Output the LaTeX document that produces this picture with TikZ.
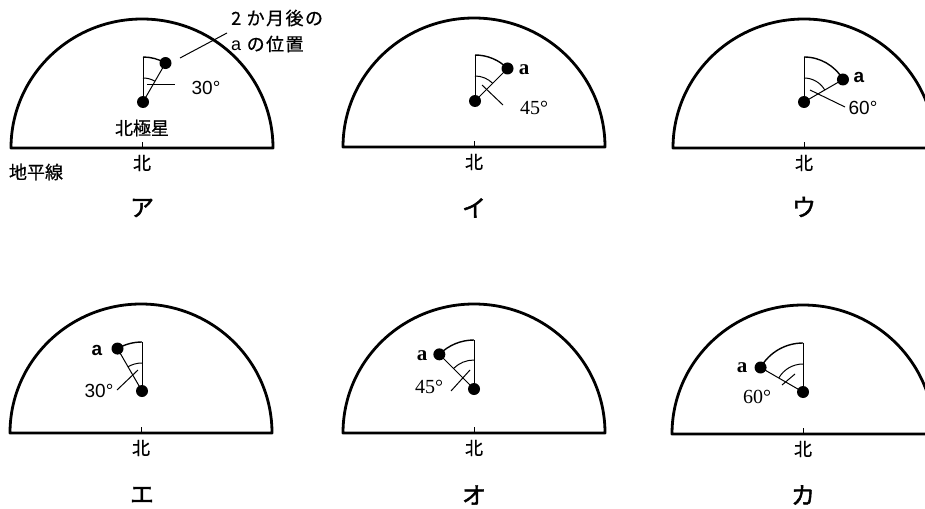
\documentclass[tikz,border=0pt]{standalone}
\usepackage{fontspec}
\setmainfont{Liberation Sans}
\newfontfamily\jp{Noto Sans CJK JP}
\newfontfamily\jpm[FakeBold=0.6]{Noto Sans CJK JP}
\newfontfamily\jpb[FakeBold=1.8]{Noto Sans CJK JP}
\newfontfamily\serifx{Liberation Serif}
\tikzset{
  dome/.style={line width=2.8pt, line join=round},
  thinl/.style={line width=1.0pt},
  arcl/.style={line width=1.4pt},
  star/.style={circle, fill=black, inner sep=0pt, minimum size=12pt},
  jlab/.style={font=\jpm\fontsize{18}{18}\selectfont, inner sep=0pt},
  biglab/.style={font=\jpb\fontsize{24}{24}\selectfont, inner sep=0pt},
  degsans/.style={font=\fontsize{19}{19}\selectfont, inner sep=0pt},
  degserif/.style={font=\serifx\fontsize{20}{20}\selectfont, inner sep=0pt},
  asans/.style={font=\bfseries\fontsize{19}{19}\selectfont, inner sep=0pt},
  aserif/.style={font=\serifx\bfseries\fontsize{21}{21}\selectfont, inner sep=0pt},
}
% dome: name, cx, base
\newcommand\domeat[3]{%
  \draw[dome] (#2-131,#3) arc[start angle=180, end angle=360, x radius=131, y radius=129] -- cycle;
  \coordinate (#1base) at (#2,#3);
  \coordinate (#1tick) at (#2,#3-6);
  \draw[thinl] (#1base) -- (#1tick);
  \node[jlab] (#1north) at (#2,#3+15) {北};
}
% wedge: name, Px, Py, theta, R, r
\newcommand\wedgeat[6]{%
  \node[star] (#1p) at (#2,#3) {};
  \node[star] (#1a) at ([shift={(270+#4:#5)}]#1p.center) {};
  \coordinate (#1top) at ([shift={(270:#5)}]#1p.center);
  \coordinate (#1inner) at ([shift={(270:#6)}]#1p.center);
  \draw[thinl] (#1p.center) -- (#1top);
  \draw[arcl] (#1top) arc[start angle=270, end angle=270+#4, radius=#5];
  \draw[thinl] (#1p.center) -- (#1a.center);
  \draw[thinl] (#1inner) arc[start angle=270, end angle=270+#4, radius=#6];
}
\begin{document}
\begin{tikzpicture}[x=1pt, y=-1pt]
\useasboundingbox (0,0) rectangle (925,508);
\clip (0,0) rectangle (925,508);

% ---------- ア ----------
\domeat{A}{142}{148}
\wedgeat{A}{143}{102}{30}{45}{24}
\coordinate (Al1) at (147,85); \coordinate (Al2) at (175,85);
\draw[thinl] (Al1) -- (Al2);
\node[degsans] (Adeg) at (206,88) {30°};
\node[jlab] (Apolaris) at (142,128) {北極星};
\node[jlab] (Ahoriz) at (36,172) {地平線};
\node[biglab] (Alabel) at (142,208) {ア};
\coordinate (Ac1) at (180,58); \coordinate (Ac2) at (227,33);
\draw[thinl] (Ac1) -- (Ac2);
\node[jlab, anchor=west, font=\jpm\fontsize{18}{18}\selectfont\addfontfeature{LetterSpace=8}] (Acall1) at (231,18) {2 か月後の};
\node[jlab, anchor=west, font=\jpm\fontsize{18}{18}\selectfont\addfontfeature{LetterSpace=8}] (Acall2) at (231,44) {{\fontspec{Liberation Sans}a} の位置};

% ---------- イ ----------
\domeat{B}{474}{147}
\wedgeat{B}{475}{101}{45}{46}{25}
\coordinate (Bl1) at (482,85); \coordinate (Bl2) at (503,105);
\draw[thinl] (Bl1) -- (Bl2);
\node[degserif] (Bdeg) at (534,108) {45°};
\node[aserif] (Balab) at (524,70) {a};
\node[biglab] (Blabel) at (474,208) {イ};

% ---------- ウ ----------
\domeat{C}{804}{148}
\wedgeat{C}{804}{102}{60}{45}{24}
\coordinate (Cl1) at (810,90); \coordinate (Cl2) at (845,107);
\draw[thinl] (Cl1) -- (Cl2);
\node[degsans] (Cdeg) at (863,108) {60°};
\node[asans] (Calab) at (859,77) {a};
\node[biglab] (Clabel) at (804,207) {ウ};

% ---------- エ ----------
\domeat{D}{141}{433}
\wedgeat{D}{142}{391}{-30}{49}{28}
\coordinate (Dl1) at (138,370); \coordinate (Dl2) at (117,390);
\draw[thinl] (Dl1) -- (Dl2);
\node[degsans] (Ddeg) at (99,391) {30°};
\node[asans] (Dalab) at (97,350) {a};
\node[biglab] (Dlabel) at (142,495) {エ};

% ---------- オ ----------
\domeat{E}{474}{433}
\wedgeat{E}{474}{389}{-45}{49}{29}
\coordinate (El1) at (470,370); \coordinate (El2) at (451,391);
\draw[thinl] (El1) -- (El2);
\node[degserif] (Edeg) at (429,387) {45°};
\node[aserif] (Ealab) at (422,356) {a};
\node[biglab] (Elabel) at (474,495) {オ};

% ---------- カ ----------
\domeat{F}{803}{434}
\wedgeat{F}{803}{392}{-60}{49}{28}
\coordinate (Fl1) at (795,374); \coordinate (Fl2) at (782,385);
\draw[thinl] (Fl1) -- (Fl2);
\node[degserif] (Fdeg) at (757,397) {60°};
\node[aserif] (Falab) at (742,368) {a};
\node[biglab] (Flabel) at (803,495) {カ};
\end{tikzpicture}
\end{document}
